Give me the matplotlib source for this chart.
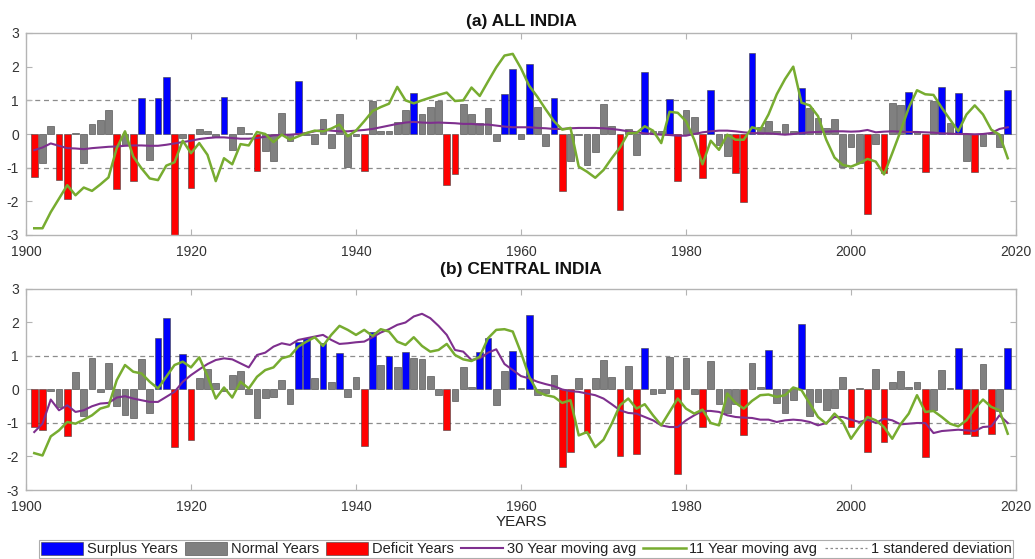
import numpy as np
import matplotlib
matplotlib.use("Agg")
import matplotlib.pyplot as plt
from matplotlib.patches import Patch
from matplotlib.lines import Line2D

plt.rcParams['font.family'] = ['Liberation Sans', 'DejaVu Sans']
plt.rcParams['axes.unicode_minus'] = False

years = list(range(1901, 2020))

# (a) ALL INDIA standardized anomalies
all_india = [
    -1.27, -0.87, 0.23, -1.37, -1.94, 0.03, -0.87, 0.31, 0.43, 0.72,
    -1.64, -0.33, -1.39, 1.06, -0.77, 1.08, 1.68, -2.99, -0.12, -1.60,
    0.15, 0.08, -0.08, 1.10, -0.49, 0.21, 0.02, -1.10, -0.50, -0.80,
    0.61, -0.22, 1.58, -0.03, -0.29, 0.46, -0.42, 0.60, -0.97, -0.05,
    -1.09, 0.98, 0.10, 0.10, 0.35, 0.70, 1.21, 0.60, 0.80, 0.98,
    -1.50, -1.19, 0.88, 0.58, 0.33, 0.76, -0.20, 1.20, 1.93, -0.14,
    2.08, 0.80, -0.37, 1.08, -1.69, -0.79, -0.03, -0.92, -0.54, 0.90,
    0.23, -2.27, 0.16, -0.62, 1.85, 0.08, 0.10, 1.03, -1.39, 0.70,
    0.50, -1.30, 1.30, -0.32, -0.64, -1.17, -2.02, 2.40, 0.21, 0.38,
    0.08, 0.31, 0.08, 1.36, 0.76, 0.48, 0.18, 0.46, -0.98, -0.40,
    -0.85, -2.37, -0.29, -1.17, 0.91, 0.86, 1.25, 0.05, -1.14, 0.98,
    1.41, 0.33, 1.21, -0.79, -1.14, -0.37, 0.02, -0.40, 1.30,
]
all_india_ma30 = [
    -0.48, -0.40, -0.28, -0.35, -0.42, -0.43, -0.45, -0.42, -0.40, -0.38,
    -0.37, -0.35, -0.34, -0.34, -0.35, -0.35, -0.32, -0.28, -0.24, -0.20,
    -0.15, -0.12, -0.10, -0.10, -0.12, -0.14, -0.14, -0.12, -0.08, -0.04,
    -0.03, -0.02, 0.00, 0.03, 0.08, 0.12, 0.10, 0.08, 0.08, 0.10,
    0.12, 0.15, 0.20, 0.25, 0.30, 0.34, 0.36, 0.34, 0.33, 0.34,
    0.33, 0.32, 0.30, 0.30, 0.28, 0.28, 0.25, 0.22, 0.20, 0.20,
    0.20, 0.18, 0.17, 0.15, 0.15, 0.17, 0.18, 0.18, 0.18, 0.17,
    0.15, 0.12, 0.08, 0.05, 0.02, 0.00, -0.02, -0.03, -0.05, -0.05,
    0.00, 0.05, 0.08, 0.10, 0.10, 0.08, 0.05, 0.03, 0.02, 0.02,
    0.00, -0.02, 0.00, 0.03, 0.05, 0.06, 0.07, 0.08, 0.08, 0.07,
    0.08, 0.12, 0.05, 0.07, 0.08, 0.07, 0.06, 0.06, 0.05, 0.04,
    0.02, 0.01, 0.00, 0.00, -0.01, 0.00, 0.03, 0.15, 0.20,
]
all_india_ma11 = [
    -2.80, -2.80, -2.32, -1.92, -1.52, -1.82, -1.59, -1.69, -1.50, -1.29,
    -0.42, 0.08, -0.67, -1.02, -1.32, -1.37, -0.94, -0.84, -0.20, -0.57,
    -0.27, -0.62, -1.40, -0.72, -0.90, -0.30, -0.34, 0.06, 0.00, -0.24,
    -0.02, -0.17, -0.07, 0.03, 0.10, 0.08, 0.16, 0.28, -0.07, 0.10,
    0.38, 0.68, 0.80, 0.90, 1.40, 1.00, 0.91, 1.00, 1.08, 1.16,
    1.23, 0.98, 1.00, 1.38, 1.13, 1.56, 1.98, 2.33, 2.38, 1.95,
    1.43, 1.10, 0.73, 0.38, 0.13, 0.18, -0.97, -1.12, -1.30, -1.07,
    -0.72, -0.40, 0.03, 0.03, 0.23, 0.10, -0.27, 0.66, 0.63, 0.38,
    -0.17, -0.90, -0.20, -0.47, -0.02, -0.17, -0.17, 0.20, 0.13, 0.58,
    1.18, 1.63, 2.00, 0.93, 0.85, 0.53, -0.17, -0.70, -0.92, -0.97,
    -0.87, -0.74, -0.82, -1.20, -0.57, 0.08, 0.78, 1.30, 1.18, 1.16,
    0.78, 0.43, 0.08, 0.58, 0.85, 0.58, 0.13, -0.02, -0.72,
]

# (b) CENTRAL INDIA standardized anomalies
central_india = [
    -1.12, -1.22, -0.05, -0.52, -1.39, 0.51, -0.80, 0.95, -0.07, 0.80,
    -0.50, -0.77, -0.84, 0.91, -0.69, 1.55, 2.13, -1.72, 1.06, -1.50,
    0.35, 0.60, 0.18, -0.05, 0.43, 0.56, -0.14, -0.84, -0.24, -0.22,
    0.28, -0.42, 1.43, 1.53, 0.35, 1.40, 0.23, 1.10, -0.22, 0.38,
    -1.69, 1.73, 0.73, 1.01, 0.66, 1.13, 0.93, 0.90, 0.41, -0.15,
    -1.20, -0.34, 0.66, 0.08, 1.13, 1.53, -0.45, 0.55, 1.16, 0.03,
    2.23, -0.15, -0.10, 0.43, -2.30, -1.87, 0.35, -1.29, 0.35, 0.88,
    0.38, -2.00, 0.71, -1.94, 1.25, -0.14, -0.10, 0.96, -2.52, 0.95,
    -0.14, -1.12, 0.86, -0.42, -0.70, -0.42, -1.37, 0.78, 0.06, 1.18,
    -0.40, -0.70, -0.30, 1.95, -0.80, -0.37, -0.62, -0.54, 0.38, -1.12,
    0.03, -1.87, 0.60, -1.57, 0.23, 0.55, 0.08, 0.23, -2.02, -0.60,
    0.58, 0.03, 1.23, -1.32, -1.40, 0.75, -1.32, -0.65, 1.23,
]
central_india_ma30 = [
    -1.27, -1.02, -0.30, -0.62, -0.47, -0.67, -0.62, -0.50, -0.42, -0.40,
    -0.24, -0.20, -0.27, -0.32, -0.37, -0.37, -0.22, -0.07, 0.23, 0.43,
    0.60, 0.76, 0.88, 0.93, 0.90, 0.78, 0.66, 1.03, 1.10, 1.28,
    1.38, 1.33, 1.48, 1.53, 1.58, 1.63, 1.48, 1.36, 1.38, 1.41,
    1.43, 1.56, 1.70, 1.80, 1.93, 2.00, 2.18, 2.26, 2.13, 1.90,
    1.63, 1.18, 1.13, 0.88, 0.93, 1.10, 1.20, 0.76, 0.58, 0.40,
    0.33, 0.23, 0.16, 0.10, 0.00, -0.05, -0.07, -0.12, -0.17, -0.27,
    -0.44, -0.62, -0.70, -0.72, -0.82, -0.92, -1.07, -1.12, -1.12, -0.92,
    -0.77, -0.64, -0.64, -0.67, -0.77, -0.82, -0.84, -0.85, -0.90, -0.90,
    -0.97, -0.92, -0.90, -0.92, -0.97, -1.07, -1.00, -0.82, -0.82, -0.90,
    -0.97, -0.90, -1.00, -0.87, -0.92, -1.04, -1.02, -1.00, -1.00, -1.30,
    -1.24, -1.22, -1.20, -1.22, -1.24, -1.12, -1.10, -0.77, -1.00,
]
central_india_ma11 = [
    -1.90, -1.97, -1.40, -1.22, -0.97, -1.02, -0.90, -0.77, -0.57, -0.50,
    0.28, 0.73, 0.53, 0.48, 0.23, 0.03, 0.38, 0.73, 0.83, 0.66,
    0.96, 0.40, -0.27, 0.06, -0.24, 0.23, 0.03, 0.38, 0.58, 0.66,
    0.93, 1.00, 1.28, 1.43, 1.56, 1.30, 1.63, 1.90, 1.78, 1.63,
    1.78, 1.60, 1.80, 1.73, 1.43, 1.33, 1.56, 1.30, 1.13, 1.18,
    1.36, 1.03, 0.90, 0.85, 0.98, 1.53, 1.78, 1.80, 1.73, 1.10,
    0.38, -0.07, -0.17, -0.22, -0.40, -0.32, -1.37, -1.27, -1.72, -1.50,
    -1.02, -0.47, -0.27, -0.57, -0.44, -0.77, -1.07, -0.67, -0.27, -0.57,
    -0.72, -0.60, -1.00, -1.07, -0.12, -0.40, -0.57, -0.34, -0.17, -0.15,
    -0.22, -0.17, 0.06, -0.02, -0.42, -0.82, -1.02, -0.72, -0.97, -1.47,
    -1.12, -0.82, -0.92, -1.12, -1.47, -1.04, -0.72, -0.17, -0.67, -0.64,
    -0.82, -1.02, -1.10, -0.92, -0.57, -0.30, -0.52, -0.62, -1.32,
]

panels = [
    ("(a) ALL INDIA", all_india, all_india_ma30, all_india_ma11),
    ("(b) CENTRAL INDIA", central_india, central_india_ma30, central_india_ma11),
]

C_SURPLUS = '#0000ff'
C_NORMAL = '#808080'
C_DEFICIT = '#ff0000'
C_MA30 = '#7e2f8e'
C_MA11 = '#77ac30'
C_STD = '#8c8c8c'
C_AX = '#b4b4b4'
C_TXT = '#333333'

fig = plt.figure(figsize=(10.35, 5.59), dpi=100)
rects = [
    [26/1035, 1-235/559, 990/1035, 202/559],
    [26/1035, 1-490/559, 990/1035, 201/559],
]
title_pads = [5, 11]

for rect, tpad, (title, vals, ma30, ma11) in zip(rects, title_pads, panels):
    ax = fig.add_axes(rect)
    v = np.array(vals)
    cols = np.where(v >= 1, C_SURPLUS, np.where(v <= -1, C_DEFICIT, C_NORMAL))
    ax.bar(years, v, width=0.8, color=cols, edgecolor='#404040', linewidth=0.4, zorder=2)
    ax.axhline(1, color=C_STD, ls=(0, (4, 3)), lw=0.9, zorder=1)
    ax.axhline(-1, color=C_STD, ls=(0, (4, 3)), lw=0.9, zorder=1)
    ax.plot(years, ma30, color=C_MA30, lw=1.5, zorder=3)
    ax.plot(years, ma11, color=C_MA11, lw=1.8, zorder=4)
    ax.set_xlim(1900, 2020)
    ax.set_ylim(-3, 3)
    ax.set_xticks(range(1900, 2021, 20))
    ax.set_yticks(range(-3, 4))
    ax.tick_params(direction='in', top=True, right=True, length=4, width=0.8,
                   colors=C_AX, labelcolor=C_TXT, labelsize=10)
    ax.tick_params(axis='x', pad=7)
    ax.tick_params(axis='y', pad=5)
    for s in ax.spines.values():
        s.set_color(C_AX)
        s.set_linewidth(1.0)
    ax.set_title(title, fontsize=12.5, fontweight='bold', pad=tpad, color='#111111')

fig.text(0.5 * (26 + 1016) / 1035, 1 - 522/559, 'YEARS', ha='center', va='center',
         fontsize=11, color='#222222')

handles = [
    Patch(facecolor=C_SURPLUS, edgecolor='#404040', lw=0.4),
    Patch(facecolor=C_NORMAL, edgecolor='#404040', lw=0.4),
    Patch(facecolor=C_DEFICIT, edgecolor='#404040', lw=0.4),
    Line2D([], [], color=C_MA30, lw=1.5),
    Line2D([], [], color=C_MA11, lw=1.8),
    Line2D([], [], color=C_STD, lw=0.9, ls=(0, (2, 2))),
]
labels = ['Surplus Years', 'Normal Years', 'Deficit Years', '30 Year moving avg',
          '11 Year moving avg', '1 standered deviation']
leg = fig.legend(handles, labels, loc='center', bbox_to_anchor=(526/1035, 1 - 549/559),
                 ncol=6, fontsize=10.5, frameon=True, fancybox=False, handlelength=2.9,
                 handleheight=1.0, handletextpad=0.25, columnspacing=0.5,
                 borderpad=0.1, borderaxespad=0)
leg.get_frame().set_edgecolor('#999999')
leg.get_frame().set_linewidth(0.8)
for t in leg.get_texts():
    t.set_color('#222222')

fig.savefig('out.png', dpi=100)
